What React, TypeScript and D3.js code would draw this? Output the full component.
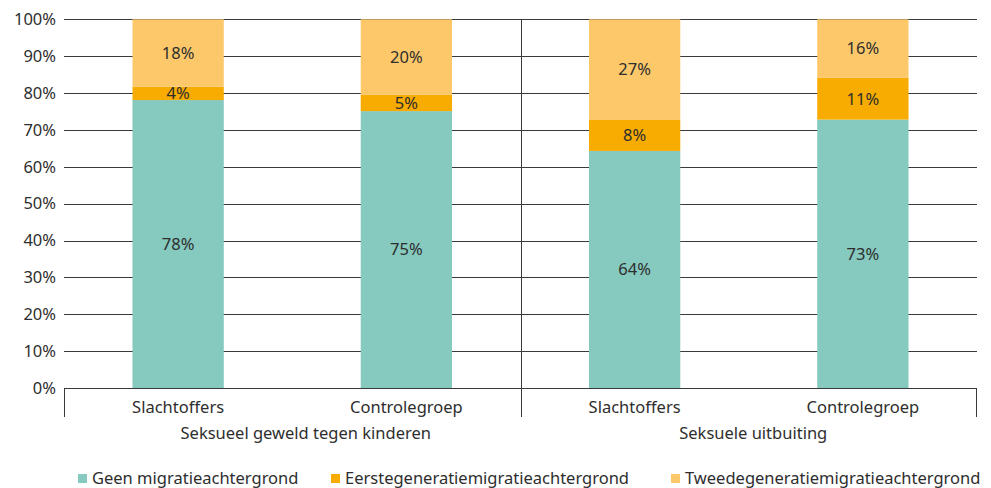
import React, { useEffect, useRef } from "react";
import * as d3 from "d3";

const groups = ["Seksueel geweld tegen kinderen", "Seksuele uitbuiting"];
const categories = ["Slachtoffers", "Controlegroep", "Slachtoffers", "Controlegroep"];
const seriesNames = [
  "Geen migratieachtergrond",
  "Eerstegeneratiemigratieachtergrond",
  "Tweedegeneratiemigratieachtergrond",
];
const geen = [78.1, 75.1, 64.3, 72.8];
const eerste = [3.6, 4.5, 8.4, 11.3];
const tweede = [18.3, 20.4, 27.3, 15.9];
const yTicks = [0, 10, 20, 30, 40, 50, 60, 70, 80, 90, 100];
const colors = ["#85c9bf", "#f8ab00", "#fdc86a"];

const W = 991;
const H = 488;
const FONT = "'Noto Sans', sans-serif";
const FS = 16.5;
const TEXT = "#2e2e2e";

const App = () => {
  const ref = useRef<SVGSVGElement>(null);

  useEffect(() => {
    const svg = d3.select(ref.current);
    svg.selectAll("*").remove();

    const left = 64;
    const right = 977;
    const top = 19.3;
    const bottom = 388;

    const ids = categories.map((_, i) => String(i));
    const x = d3.scaleBand().domain(ids).range([left, right]).paddingInner(0.6).paddingOuter(0.3);
    const y = d3.scaleLinear().domain([0, 100]).range([bottom, top]);

    // gridlines
    svg.append("g")
      .selectAll("line")
      .data(yTicks)
      .enter()
      .append("line")
      .attr("x1", left)
      .attr("x2", right)
      .attr("y1", (d) => Math.round(y(d)) + 0.5)
      .attr("y2", (d) => Math.round(y(d)) + 0.5)
      .attr("stroke", "#3a3a3a")
      .attr("stroke-width", 1);

    // y tick labels
    svg.append("g")
      .selectAll("text")
      .data(yTicks)
      .enter()
      .append("text")
      .attr("x", 56)
      .attr("y", (d) => y(d))
      .attr("dy", "0.35em")
      .attr("text-anchor", "end")
      .attr("font-family", FONT)
      .attr("font-size", FS)
      .attr("fill", TEXT)
      .text((d) => d + "%");

    // group divider and axis edges
    const mid = Math.round((x("1")! + x.bandwidth() + x("2")!) / 2) + 0.5;
    const verticals = [
      { x: left + 0.5, y1: bottom, y2: 417 },
      { x: mid, y1: top, y2: 417 },
      { x: right - 0.5, y1: bottom, y2: 417 },
    ];
    svg.append("g")
      .selectAll("line")
      .data(verticals)
      .enter()
      .append("line")
      .attr("x1", (d) => d.x)
      .attr("x2", (d) => d.x)
      .attr("y1", (d) => d.y1)
      .attr("y2", (d) => d.y2)
      .attr("stroke", "#3a3a3a")
      .attr("stroke-width", 1);

    // stacked bars
    const rows = ids.map((id, i) => ({ id, s0: geen[i], s1: eerste[i], s2: tweede[i] }));
    const stack = d3.stack<any>().keys(["s0", "s1", "s2"]);
    const series = stack(rows);

    series.forEach((s, si) => {
      const g = svg.append("g");
      g.selectAll("rect")
        .data(s)
        .enter()
        .append("rect")
        .attr("x", (d) => x(d.data.id)!)
        .attr("width", x.bandwidth())
        .attr("y", (d) => y(d[1]))
        .attr("height", (d) => y(d[0]) - y(d[1]))
        .attr("fill", colors[si]);
      g.selectAll("text")
        .data(s)
        .enter()
        .append("text")
        .attr("x", (d) => x(d.data.id)! + x.bandwidth() / 2)
        .attr("y", (d) => (y(d[0]) + y(d[1])) / 2)
        .attr("dy", "0.35em")
        .attr("text-anchor", "middle")
        .attr("font-family", FONT)
        .attr("font-size", FS)
        .attr("fill", TEXT)
        .text((d) => Math.round(d[1] - d[0]) + "%");
    });

    // category labels
    svg.append("g")
      .selectAll("text")
      .data(ids)
      .enter()
      .append("text")
      .attr("x", (d) => x(d)! + x.bandwidth() / 2)
      .attr("y", 413)
      .attr("text-anchor", "middle")
      .attr("font-family", FONT)
      .attr("font-size", FS)
      .attr("fill", TEXT)
      .text((d, i) => categories[i]);

    // group labels
    const groupCenters = [(left + mid) / 2 + 13, (mid + right) / 2 + 4];
    svg.append("g")
      .selectAll("text")
      .data(groups)
      .enter()
      .append("text")
      .attr("x", (d, i) => groupCenters[i])
      .attr("y", 439)
      .attr("text-anchor", "middle")
      .attr("font-family", FONT)
      .attr("font-size", FS)
      .attr("fill", TEXT)
      .text((d) => d);

    // legend
    const legendX = [78, 331, 671];
    const lg = svg.append("g")
      .selectAll("g")
      .data(seriesNames)
      .enter()
      .append("g")
      .attr("transform", (d, i) => `translate(${legendX[i]},474)`);
    lg.append("rect")
      .attr("width", 9)
      .attr("height", 9)
      .attr("fill", (d, i) => colors[i]);
    lg.append("text")
      .attr("x", 14)
      .attr("y", 4.5)
      .attr("dy", "0.35em")
      .attr("font-family", FONT)
      .attr("font-size", FS)
      .attr("fill", TEXT)
      .text((d) => d);
  }, []);

  return (
    <svg
      ref={ref}
      width={W}
      height={H}
      style={{ position: "absolute", left: 0, top: 0, background: "#fff" }}
    />
  );
};

export default App;
